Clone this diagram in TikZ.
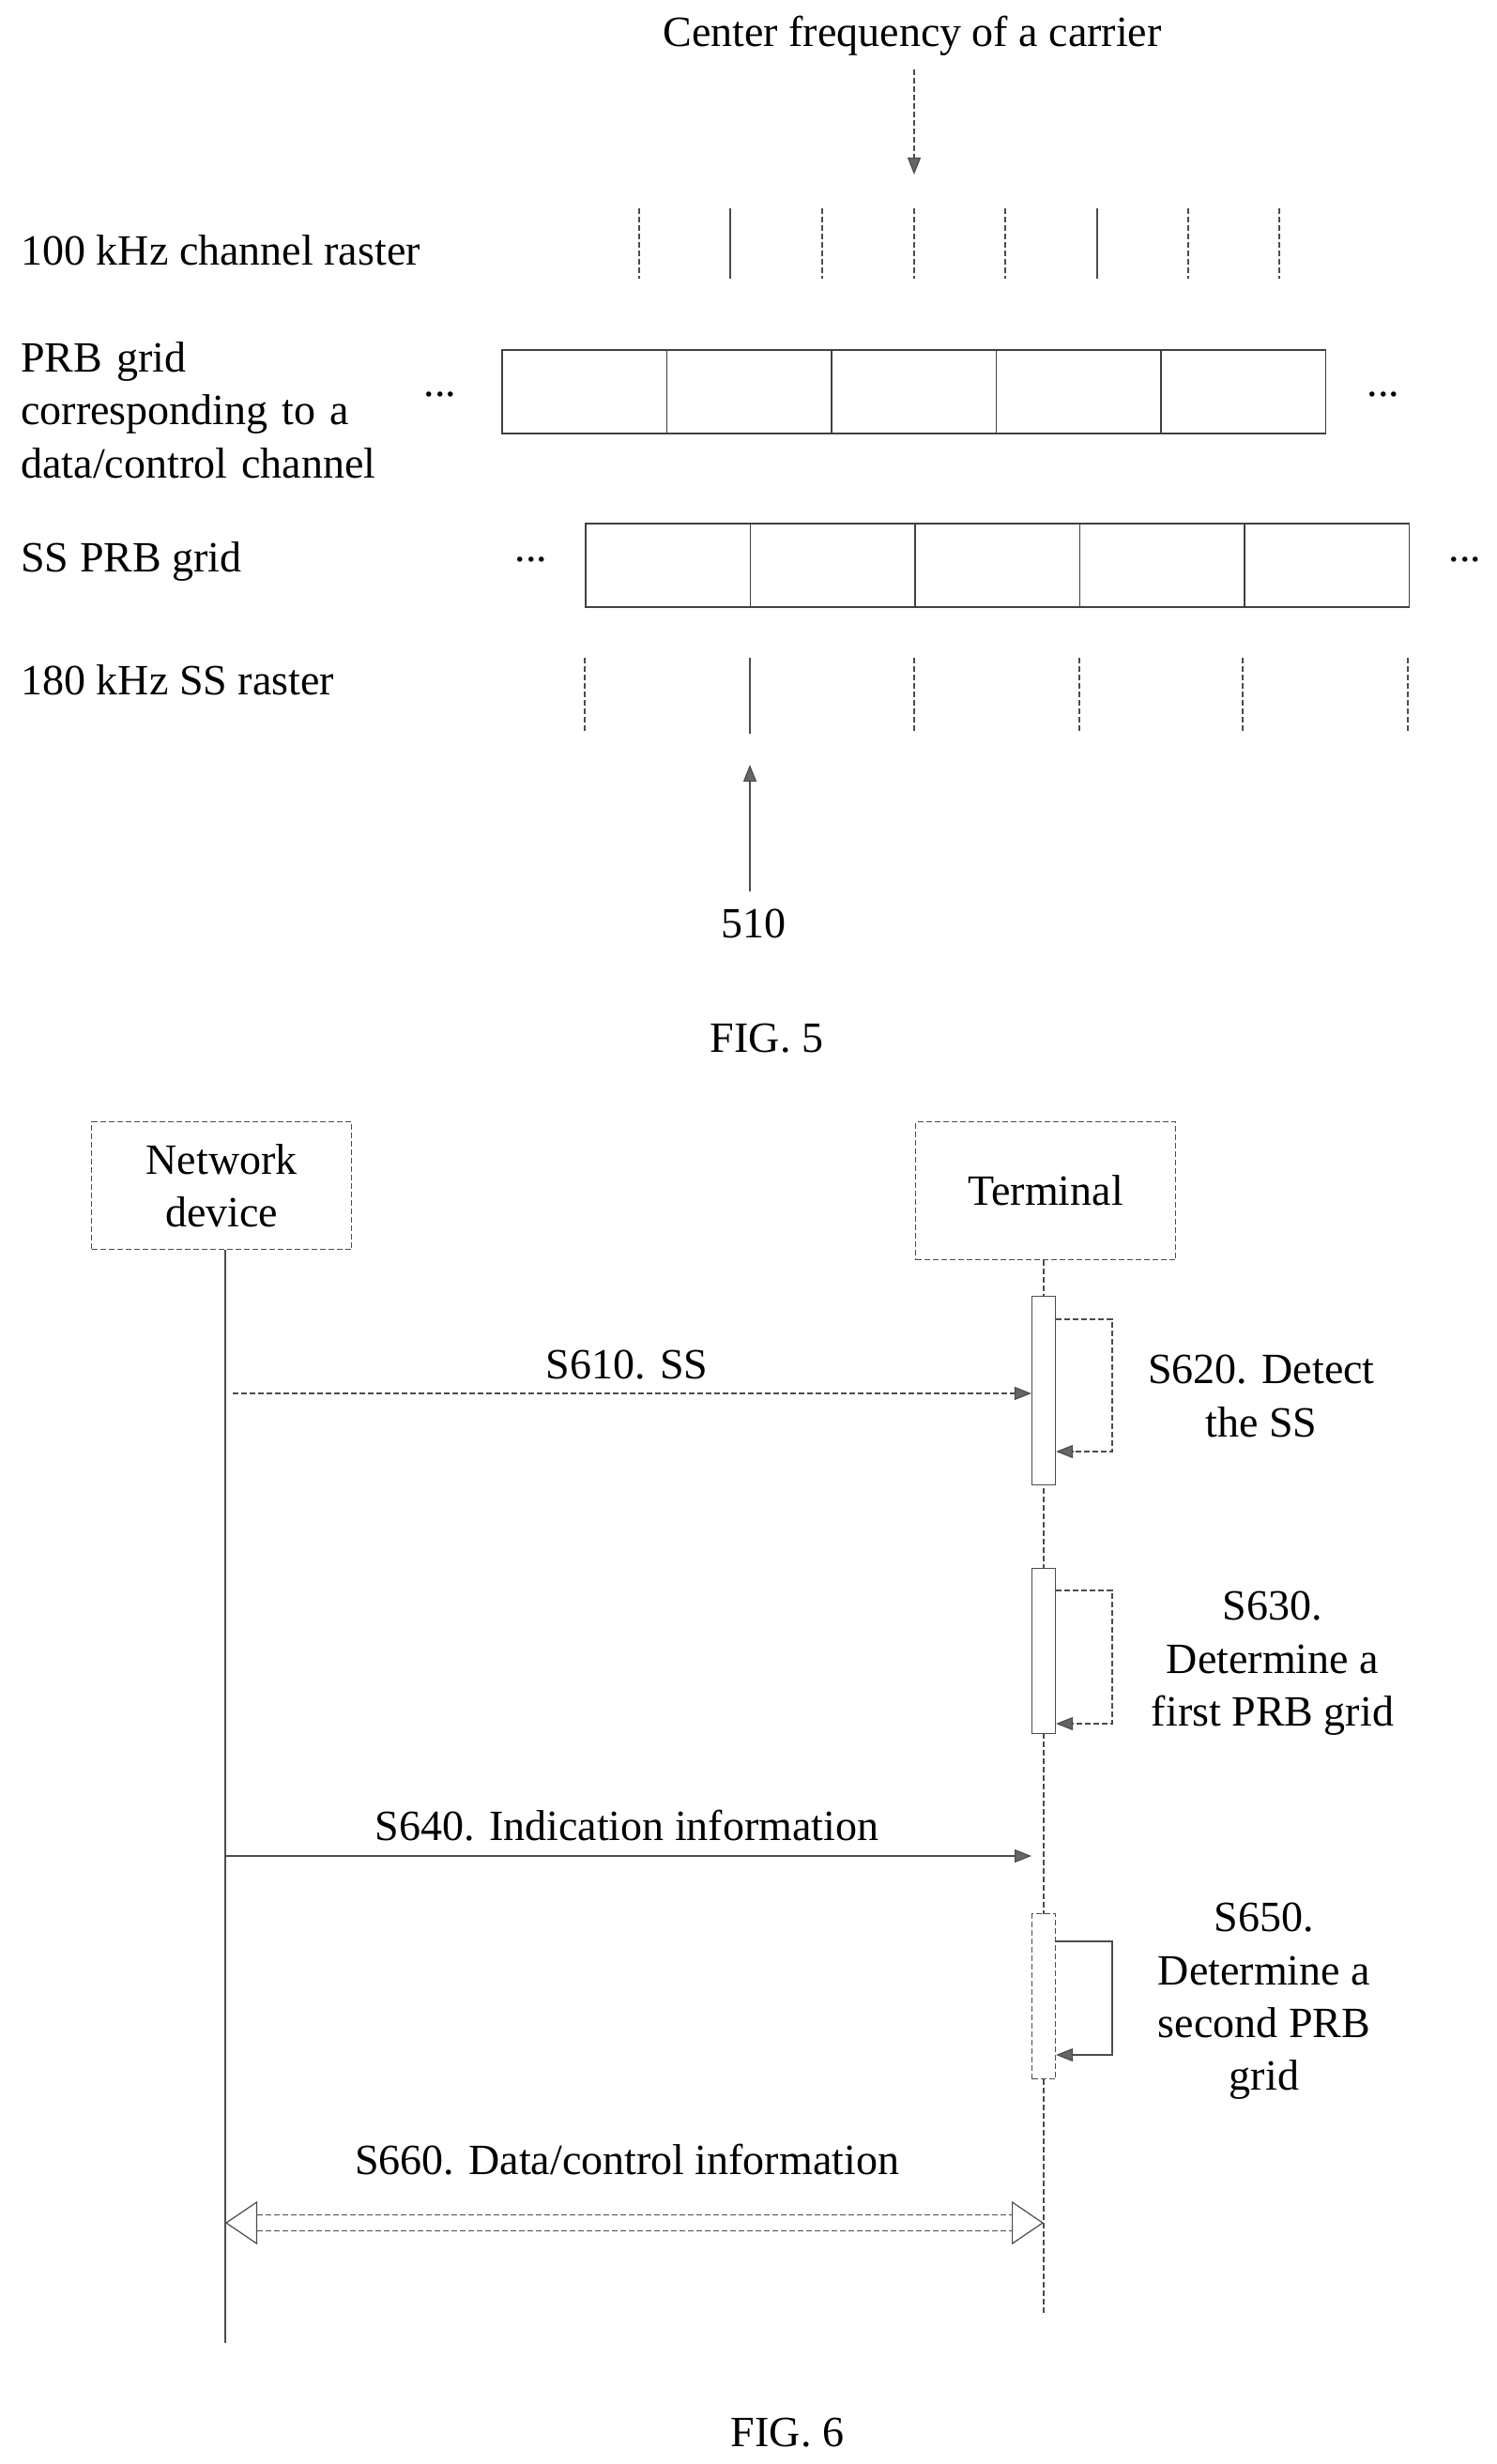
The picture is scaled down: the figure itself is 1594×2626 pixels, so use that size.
\documentclass[tikz,border=0pt]{standalone}
\usepackage{fontspec}
\setmainfont{Liberation Serif}
\usetikzlibrary{arrows.meta,positioning}
\begin{document}
\begin{tikzpicture}[x=0.5pt,y=-0.5pt,
  txt/.style={font=\fontsize{23}{28.2}\selectfont,inner sep=0pt},
  ln/.style={draw=black!70,line width=0.6pt},
  dsh/.style={ln,dash pattern=on 3pt off 1.5pt},
  tip/.style={-{Triangle[length=9pt,width=7pt,fill=black!60]}},
  cell/.style={draw=black!75,line width=0.8pt,minimum width=87.75pt,minimum height=44.5pt,inner sep=0pt,anchor=north west},
  act/.style={draw=black!70,line width=0.6pt,fill=white,minimum width=12.5pt,inner sep=0pt,anchor=north}]
\useasboundingbox (0,0) rectangle (1594,2626);
% ---------- FIG 5 ----------
\node[txt] (cf) at (972,38) {Center frequency of a carrier};
\coordinate (cfa) at (974,74);
\coordinate (cfb) at (974,186);
\draw[dsh,tip] (cfa) -- (cfb);
\foreach \x/\s in {681/dsh,778/ln,876/dsh,974/dsh,1071/dsh,1169/ln,1266/dsh,1363/dsh}
  \draw[\s] (\x,222) -- (\x,297);
\node[txt,anchor=west] (l1) at (22,267) {100 kHz channel raster};
\node[txt,anchor=north west,align=left,text width=250pt] (l2) at (22,364) {PRB grid\\corresponding to a\\data/control channel};
\foreach \x [count=\i] in {534,709.5,885,1060.5,1236}
  \node[cell] (p\i) at (\x,372) {};
\node[txt] (pd1) at (469,420) {...};
\node[txt] (pd2) at (1474,420) {...};
\node[txt,anchor=west] (l3) at (22,599) {SS PRB grid};
\foreach \x [count=\i] in {623,798.5,974,1149.5,1325}
  \node[cell] (s\i) at (\x,557) {};
\node[txt] (sd1) at (566,596) {...};
\node[txt] (sd2) at (1561,596) {...};
\node[txt,anchor=west] (l4) at (22,725) {180 kHz SS raster};
\foreach \x/\s in {623/dsh,799/ln,974/dsh,1150/dsh,1324/dsh,1500/dsh}
  \draw[\s] (\x,701) -- (\x,782);
\node[txt] (n510) at (803,984) {510};
\coordinate (a510) at (799,950);
\coordinate (b510) at (799,815);
\draw[ln,tip] (a510) -- (b510);
\node[txt] (fig5) at (817,1107) {FIG. 5};
% ---------- FIG 6 ----------
\node[dsh,txt,minimum width=138.5pt,minimum height=68pt,align=center,anchor=north west] (nd) at (97,1195) {Network\\device};
\node[dsh,txt,minimum width=138.5pt,minimum height=73.5pt,anchor=north west] (te) at (975,1195) {Terminal};
\coordinate (ndend) at (240,2497);
\coordinate (teend) at (1112,2467);
\draw[ln] (nd.south -| ndend) -- (ndend);
\draw[dsh] (te.south -| teend) -- (teend);
\node[act,minimum height=100.5pt] (b1) at (1112,1381) {};
\node[act,minimum height=88pt] (b2) at (1112,1671) {};
\node[act,dsh,minimum height=88pt] (b3) at (1112,2039) {};
% self arrows
\draw[dsh,tip] (b1.north east |- 0,1406) -- (1185,1406) -- (1185,1547) -- (b1.north east |- 0,1547);
\draw[dsh,tip] (b2.north east |- 0,1695) -- (1185,1695) -- (1185,1837) -- (b2.north east |- 0,1837);
\draw[ln,tip] (b3.north east |- 0,2069) -- (1185,2069) -- (1185,2190) -- (b3.north east |- 0,2190);
% messages
\coordinate (m1s) at (248,1485);
\draw[dsh,tip] (m1s) -- (b1.west |- m1s);
\node[txt] (t610) at (668,1455) {S610. SS};
\coordinate (m2s) at (240,1978);
\coordinate (m2e) at (1099,1978);
\draw[ln,tip] (m2s) -- (m2e);
\node[txt] (t640) at (668,1946) {S640. Indication information};
\node[txt,align=center] (t620) at (1344,1488) {S620. Detect\\the SS};
\node[txt,align=center] (t630) at (1356,1773) {S630.\\Determine a\\first PRB grid};
\node[txt,align=center] (t650) at (1347,2133) {S650.\\Determine a\\second PRB\\grid};
\coordinate (d1) at (240,2369);
\coordinate (d2) at (1112,2369);
\draw[dsh,double=white,double distance=8pt,{Triangle[open,length=17pt,width=23pt,fill=white]}-{Triangle[open,length=17pt,width=23pt,fill=white]}] (d1) -- (d2);
\node[txt] (t660) at (668,2302) {S660. Data/control information};
\node[txt] (fig6) at (839,2593) {FIG. 6};
\end{tikzpicture}
\end{document}
